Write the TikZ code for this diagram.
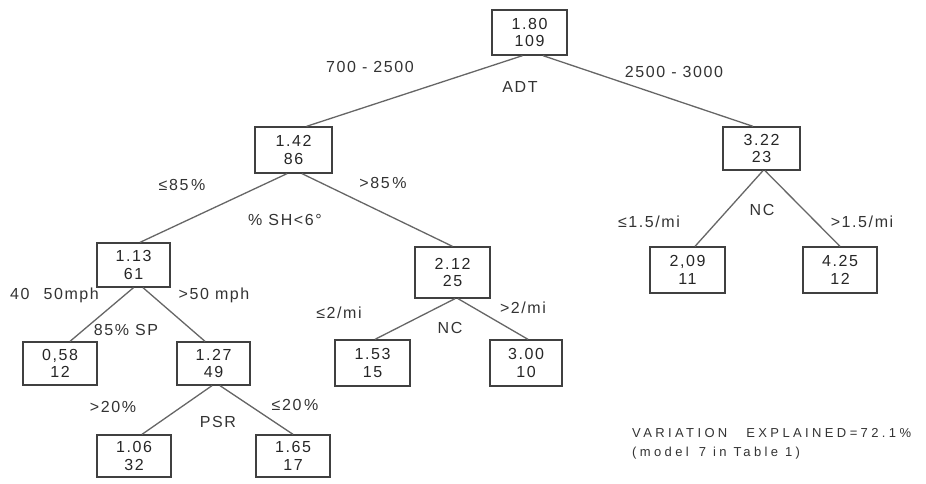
\documentclass[tikz,border=0pt]{standalone}
\usepackage{fontspec}
\setmainfont{Liberation Sans}[LetterSpace=10]
\newfontfamily\notefont{Liberation Sans}[LetterSpace=26]
\usetikzlibrary{calc}
\begin{document}
\begin{tikzpicture}[x=1pt,y=-1pt,
  box/.style={draw=black!75, line width=1.3pt, inner sep=0pt, align=center,
    minimum width=75pt, minimum height=45pt,
    font=\fontsize{16}{17.5}\selectfont, text=black!85},
  edge/.style={draw=black!60, line width=1.3pt},
  lbl/.style={inner sep=0pt, font=\fontsize{16}{18}\selectfont, text=black!80},
  note/.style={inner sep=0pt, anchor=west, font=\notefont\fontsize{13}{15}\selectfont, text=black!80}]
\useasboundingbox[fill=white] (0,0) rectangle (926,483);

% boxes
\node[box] (root) at (529.5,32.5) {1.80\\109};
\node[box, minimum width=77pt, minimum height=46pt] (n142) at (293.5,150) {1.42\\86};
\node[box, minimum width=77pt, minimum height=43pt] (n322) at (761.5,148.5) {3.22\\23};
\node[box, minimum width=73pt, minimum height=44pt] (n113) at (133.5,265) {1.13\\61};
\node[box, minimum height=51pt] (n212) at (452.5,272.5) {2.12\\25};
\node[box, minimum width=74pt, minimum height=43pt] (n058) at (60,363.5) {0,58\\12};
\node[box, minimum width=73pt, minimum height=43pt] (n127) at (213.5,363.5) {1.27\\49};
\node[box, minimum height=46pt] (n153) at (372.5,363) {1.53\\15};
\node[box, minimum width=72pt, minimum height=46pt] (n300) at (526,363) {3.00\\10};
\node[box, minimum height=46pt] (n209) at (687.5,270) {2,09\\11};
\node[box, minimum width=74pt, minimum height=46pt] (n425) at (840,270) {4.25\\12};
\node[box, minimum width=74pt, minimum height=42pt] (n106) at (134,456) {1.06\\32};
\node[box, minimum width=74pt, minimum height=42pt] (n165) at (293,456) {1.65\\17};

% connectors
\draw[edge] ($(root.south)+(-7,0)$) -- ($(n142.north)+(13,0)$);
\draw[edge] ($(root.south)+(13.5,0)$) -- ($(n322.north)+(-8.5,0)$);
\draw[edge] ($(n142.south)+(-6.5,0)$) -- ($(n113.north)+(6.5,0)$);
\draw[edge] ($(n142.south)+(8.5,0)$) -- (n212.north);
\draw[edge] (n113.south) -- ($(n058.north)+(10,0)$);
\draw[edge] ($(n113.south)+(9.5,0)$) -- ($(n127.north)+(-8.5,0)$);
\draw[edge] ($(n127.south)+(-1.5,0)$) -- ($(n106.north)+(8,0)$);
\draw[edge] ($(n127.south)+(6.5,0)$) -- (n165.north);
\draw[edge] ($(n212.south)+(2.5,0)$) -- ($(n153.north)+(2.5,0)$);
\draw[edge] ($(n212.south)+(5.5,0)$) -- ($(n300.north)+(2,0)$);
\draw[edge] ($(n322.south)+(1.5,0)$) -- ($(n209.north)+(7.5,0)$);
\draw[edge] ($(n322.south)+(3.5,0)$) -- (n425.north);

% labels
\node[lbl] (l1) at (370,67) {700 - 2500};
\node[lbl] (l2) at (520,87) {ADT};
\node[lbl] (l3) at (674,72) {2500 - 3000};
\node[lbl] (l4) at (182,185) {≤85\,\%};
\node[lbl] (l5) at (383,183) {>85\,\%};
\node[lbl] (l6) at (285,220) {\% SH<6°};
\node[lbl, anchor=west] (l7) at (10,295) {40\hspace{14pt}50mph};
\node[lbl] (l8) at (214,295) {>50 mph};
\node[lbl] (l9) at (126,330) {85\% SP};
\node[lbl] (l10) at (339,313) {≤2/mi};
\node[lbl] (l11) at (450,328) {NC};
\node[lbl] (l12) at (523,308) {>2/mi};
\node[lbl] (l13) at (762,210) {NC};
\node[lbl] (l14) at (649,222) {≤1.5/mi};
\node[lbl] (l15) at (862,222) {>1.5/mi};
\node[lbl] (l16) at (113,407) {>20\%};
\node[lbl] (l17) at (218,422) {PSR};
\node[lbl] (l18) at (295,405) {≤20\,\%};
\node[note] (v1) at (632,433) {VARIATION\hspace{12pt} EXPLAINED=72.1\%};
\node[note] (v2) at (632,453) {(model\hspace{3pt} 7 in Table 1)};
\end{tikzpicture}
\end{document}
